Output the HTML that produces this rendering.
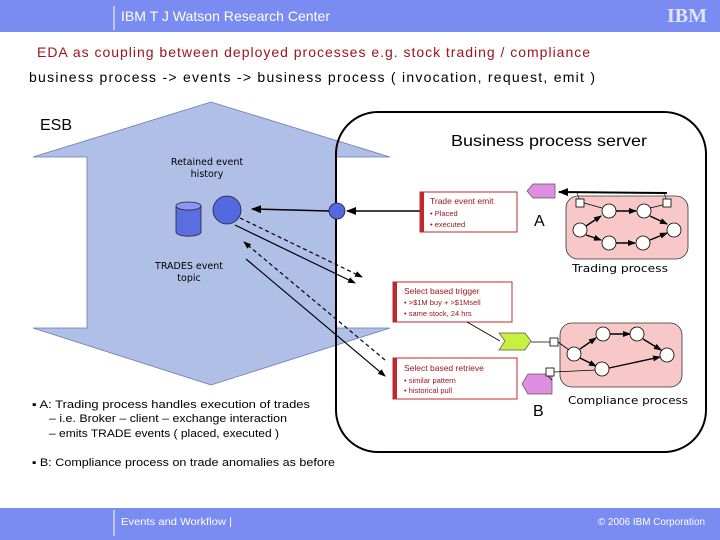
<!DOCTYPE html>
<html><head><meta charset="utf-8"><style>
body{margin:0;width:720px;height:540px;overflow:hidden;background:#fff;font-family:"Liberation Sans",sans-serif}
svg{display:block}
</style></head><body>
<svg width="720" height="540" xmlns="http://www.w3.org/2000/svg" font-family="Liberation Sans, sans-serif">
<defs>
<marker id="ar" markerWidth="10" markerHeight="8" refX="9" refY="4" orient="auto" markerUnits="userSpaceOnUse"><path d="M0,0 L10,4 L0,8 z" fill="#000"/></marker>
<marker id="as" markerWidth="8" markerHeight="6" refX="7" refY="3" orient="auto" markerUnits="userSpaceOnUse"><path d="M0,0 L8,3 L0,6 z" fill="#000"/></marker>
</defs>
<rect x="0" y="0" width="720" height="32" fill="#7a8bf2"/>
<line x1="114" y1="6" x2="114" y2="30" stroke="#fff" stroke-width="1"/>
<text x="121" y="21" font-size="14" fill="#fff" textLength="209" lengthAdjust="spacingAndGlyphs">IBM T J Watson Research Center</text>
<text x="667" y="22" font-size="20" font-weight="bold" fill="#dfe4ff" font-family="Liberation Serif, serif">IBM</text>
<text x="37" y="57" font-size="14" fill="#a0141e" textLength="553" lengthAdjust="spacing">EDA  as coupling between deployed processes e.g.  stock trading / compliance</text>
<text x="29" y="82" font-size="14" fill="#000" textLength="566" lengthAdjust="spacing">business process  -&gt;  events  -&gt;  business  process  ( invocation, request, emit )</text>

<polygon points="33,157 211,102 390,157 336,157 336,328 390,328 211,385 33,328 87,328 87,157" fill="#b0bfe6" stroke="#6b7ab8" stroke-width="0.8"/>
<text x="40" y="130" font-size="16" fill="#000">ESB</text>
<rect x="336" y="112" width="370" height="340" rx="42" fill="none" stroke="#000" stroke-width="2"/>
<text x="451" y="146" font-size="16" fill="#000" textLength="196" lengthAdjust="spacingAndGlyphs">Business process server</text>

<text x="207" y="165" font-size="9.5" text-anchor="middle" font-family="DejaVu Sans, sans-serif">Retained  event</text>
<text x="207" y="177" font-size="9.5" text-anchor="middle" font-family="DejaVu Sans, sans-serif">history</text>
<text x="189" y="269" font-size="9.5" text-anchor="middle" font-family="DejaVu Sans, sans-serif">TRADES event</text>
<text x="189" y="281" font-size="9.5" text-anchor="middle" font-family="DejaVu Sans, sans-serif">topic</text>

<path d="M176,206 v26 a12,4 0 0 0 25,0 v-26" fill="#5b6ee0" stroke="#223" stroke-width="0.8"/>
<ellipse cx="188.5" cy="206" rx="12.5" ry="4" fill="#8a99f0" stroke="#223" stroke-width="0.8"/>
<circle cx="227" cy="210" r="14" fill="#5468e0" stroke="#223" stroke-width="0.8"/>
<circle cx="337" cy="211" r="8" fill="#5468e0" stroke="#223" stroke-width="0.8"/>

<line x1="329" y1="211" x2="252" y2="209" stroke="#000" stroke-width="1.5" marker-end="url(#ar)"/>
<line x1="420" y1="211" x2="347" y2="211" stroke="#000" stroke-width="1.5" marker-end="url(#ar)"/>
<line x1="240" y1="218" x2="362" y2="277" stroke="#000" stroke-width="1.2" stroke-dasharray="4,3" marker-end="url(#as)"/>
<line x1="235" y1="225" x2="355" y2="283" stroke="#000" stroke-width="1.2" marker-end="url(#as)"/>
<line x1="385" y1="360" x2="244" y2="242" stroke="#000" stroke-width="1.2" stroke-dasharray="4,3" marker-end="url(#as)"/>
<line x1="246" y1="259" x2="385" y2="376" stroke="#000" stroke-width="1.2" marker-end="url(#as)"/>

<rect x="420" y="192" width="97" height="40" fill="#fff" stroke="#c0282d" stroke-width="1"/>
<rect x="420" y="192" width="4" height="40" fill="#c0282d"/>
<text x="430" y="204" font-size="8.5" fill="#a0141e">Trade event emit</text>
<text x="430" y="216" font-size="7.5" fill="#a0141e">•  Placed</text>
<text x="430" y="227" font-size="7.5" fill="#a0141e">•  executed</text>

<rect x="393" y="282" width="119" height="40" fill="#fff" stroke="#c0282d" stroke-width="1"/>
<rect x="393" y="282" width="4" height="40" fill="#c0282d"/>
<text x="404" y="294" font-size="8.5" fill="#a0141e">Select based trigger</text>
<text x="404" y="305" font-size="7.5" fill="#a0141e">•  &gt;$1M buy + &gt;$1Msell</text>
<text x="404" y="316" font-size="7.5" fill="#a0141e">•  same stock, 24 hrs</text>

<rect x="393" y="358" width="124" height="41" fill="#fff" stroke="#c0282d" stroke-width="1"/>
<rect x="393" y="358" width="4" height="41" fill="#c0282d"/>
<text x="404" y="371" font-size="8.5" fill="#a0141e">Select based retrieve</text>
<text x="404" y="383" font-size="7.5" fill="#a0141e">•  similar pattern</text>
<text x="404" y="393" font-size="7.5" fill="#a0141e">•  historical pull</text>

<line x1="467" y1="322" x2="500" y2="341" stroke="#000" stroke-width="0.8"/>

<!-- A -->
<polygon points="555,184 555,198 533,198 527,191 533,184" fill="#e08fe0" stroke="#555" stroke-width="0.7"/>
<text x="534" y="226" font-size="16">A</text>
<rect x="566" y="196" width="122" height="63" rx="12" fill="#f8c8c8" stroke="#333" stroke-width="0.8"/>
<line x1="667" y1="193" x2="559" y2="192" stroke="#000" stroke-width="2" marker-end="url(#ar)"/>
<polyline points="580,201 577,193" fill="none" stroke="#000" stroke-width="0.6"/>
<polyline points="667,201 664,193" fill="none" stroke="#000" stroke-width="0.6"/>
<g stroke="#000" stroke-width="0.8">
<line x1="584" y1="203" x2="602" y2="208"/><line x1="671" y1="203" x2="650" y2="208"/>
</g>
<g stroke="#000" stroke-width="1.4" marker-end="url(#as)">
<line x1="586" y1="226" x2="601" y2="216"/>
<line x1="616" y1="211" x2="636" y2="211"/>
<line x1="650" y1="216" x2="667" y2="224"/>
<line x1="586" y1="235" x2="601" y2="240"/>
<line x1="616" y1="243" x2="635" y2="243"/>
<line x1="650" y1="240" x2="667" y2="233"/>
</g>
<g fill="#fff" stroke="#000" stroke-width="0.8">
<circle cx="580" cy="230" r="7"/><circle cx="609" cy="211" r="7"/><circle cx="644" cy="211" r="7"/>
<circle cx="674" cy="230" r="7"/><circle cx="609" cy="243" r="7"/><circle cx="643" cy="243" r="7"/>
<rect x="576" y="199" width="8" height="8"/><rect x="663" y="199" width="8" height="8"/>
</g>
<text x="572" y="272" font-size="11" font-family="DejaVu Sans, sans-serif" textLength="96" lengthAdjust="spacingAndGlyphs">Trading process</text>

<!-- B -->
<rect x="560" y="323" width="122" height="64" rx="12" fill="#f8c8c8" stroke="#333" stroke-width="0.8"/>
<polygon points="499,333 525,333 531,341 525,350 499,350 505,341" fill="#c8f040" stroke="#555" stroke-width="0.7"/>
<line x1="531" y1="342" x2="550" y2="342" stroke="#000" stroke-width="0.8"/>
<polygon points="552,374 552,394 528,394 522,384 528,374" fill="#e08fe0" stroke="#555" stroke-width="0.7"/>
<line x1="552" y1="380" x2="548" y2="376" stroke="#000" stroke-width="0.6"/>
<g stroke="#000" stroke-width="0.8">
<line x1="558" y1="342" x2="569" y2="350"/><line x1="554" y1="372" x2="596" y2="370"/>
</g>
<g stroke="#000" stroke-width="1.4" marker-end="url(#as)">
<line x1="580" y1="349" x2="596" y2="338"/>
<line x1="610" y1="334" x2="630" y2="334"/>
<line x1="643" y1="339" x2="661" y2="350"/>
<line x1="580" y1="358" x2="596" y2="366"/>
<line x1="609" y1="368" x2="660" y2="357"/>
</g>
<g fill="#fff" stroke="#000" stroke-width="0.8">
<circle cx="574" cy="354" r="7"/><circle cx="603" cy="334" r="7"/><circle cx="637" cy="334" r="7"/>
<circle cx="667" cy="355" r="7"/><circle cx="602" cy="369" r="7"/>
<rect x="550" y="338" width="8" height="8"/><rect x="546" y="368" width="8" height="8"/>
</g>
<text x="568" y="404" font-size="11" font-family="DejaVu Sans, sans-serif" textLength="120" lengthAdjust="spacingAndGlyphs">Compliance process</text>
<text x="533" y="416" font-size="16">B</text>

<text x="32" y="408" font-size="11" textLength="278" lengthAdjust="spacingAndGlyphs">▪  A:   Trading  process  handles execution of trades</text>
<text x="49" y="422" font-size="11" textLength="238" lengthAdjust="spacingAndGlyphs">–  i.e.  Broker – client – exchange interaction</text>
<text x="49" y="437" font-size="11" textLength="230" lengthAdjust="spacingAndGlyphs">– emits TRADE events ( placed, executed )</text>
<text x="32" y="466" font-size="11" textLength="303" lengthAdjust="spacingAndGlyphs">▪  B:   Compliance process on trade anomalies as before</text>

<rect x="0" y="508" width="720" height="32" fill="#7a8bf2"/>
<line x1="114" y1="510" x2="114" y2="536" stroke="#fff" stroke-width="1"/>
<text x="121" y="525" font-size="10" fill="#fff" textLength="111" lengthAdjust="spacingAndGlyphs">Events and Workflow  |</text>
<text x="598" y="525" font-size="10" fill="#fff" textLength="107" lengthAdjust="spacingAndGlyphs">© 2006 IBM Corporation</text>
</svg>
</body></html>
